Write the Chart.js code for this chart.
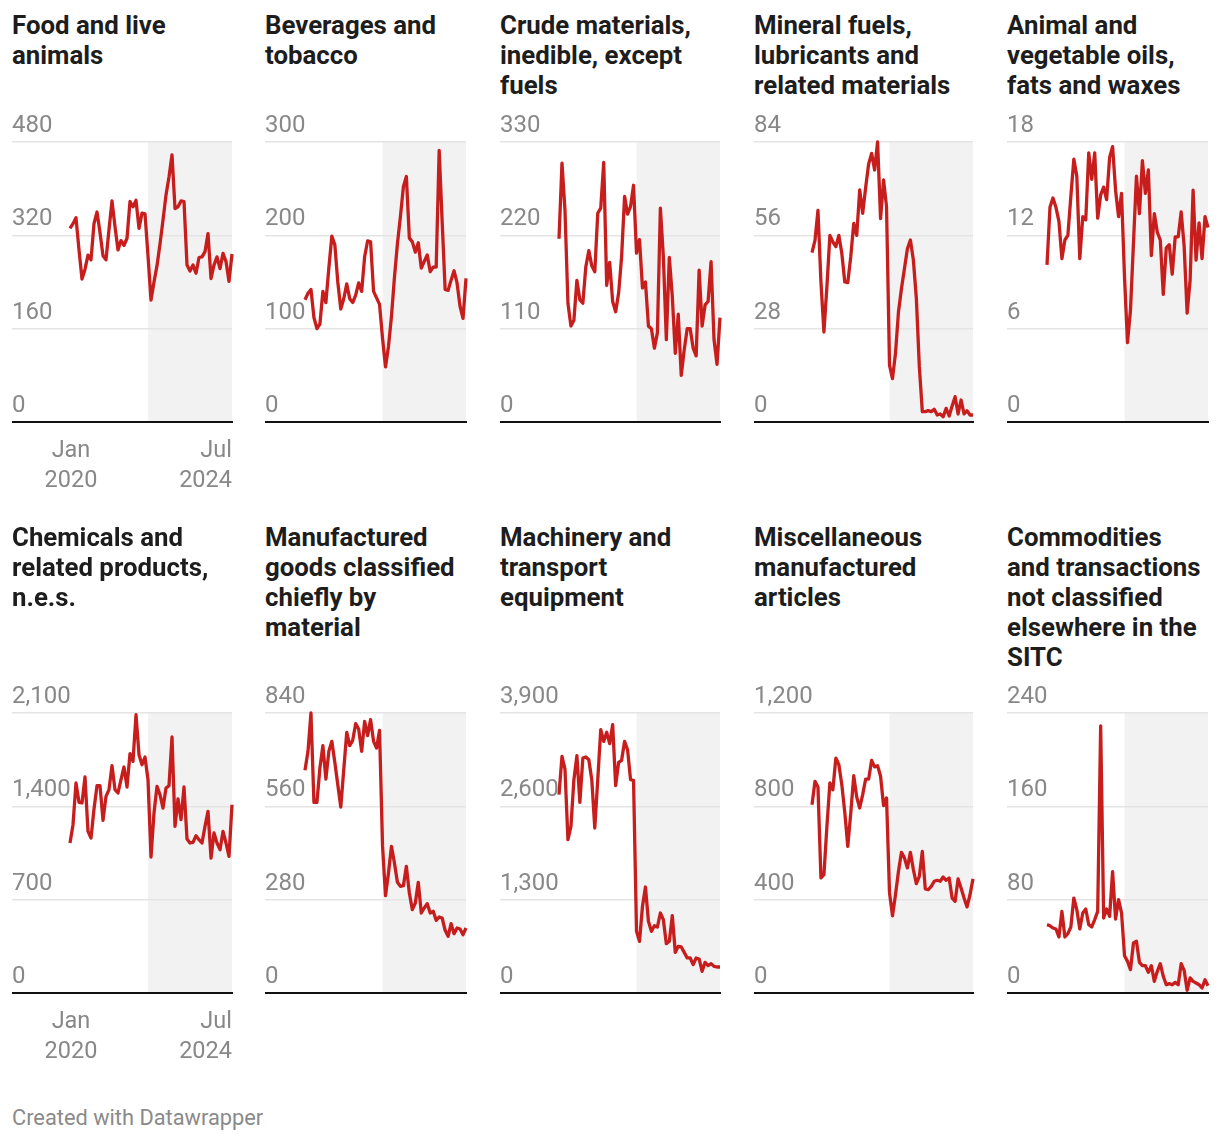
<!DOCTYPE html>
<html>
<head>
<meta charset="utf-8">
<script src="https://cdn.jsdelivr.net/npm/chart.js@4.4.1/dist/chart.umd.min.js"></script>
<style>
  body { margin: 0; background: #fff; font-family: Roboto, "Noto Sans", sans-serif; }
  #page { position: relative; width: 1220px; height: 1140px; overflow: hidden; }
  .title { position: absolute; font-weight: 700; font-size: 25.8px; line-height: 30px; color: #1d1d1d; white-space: nowrap; }
  .panel { position: absolute; }
  .xlabel { position: absolute; width: 100px; font-size: 23.5px; line-height: 30px; color: #888; white-space: nowrap; }
  #footer { position: absolute; font-size: 21.8px; line-height: 30px; color: #8a8a8a; }
</style>
</head>
<body>
<div id="page"></div>
<script>
// months Jan 2020 - Jul 2024
const months = [];
for (let y = 2020; y <= 2024; y++) {
    for (let m = 1; m <= 12; m++) {
        if (y === 2024 && m > 7) break;
        months.push(y + '-' + String(m).padStart(2, '0'));
    }
}
const shadeFrom = '2022-03';
const xTickLabels = [['Jan', '2020'], ['Jul', '2024']];

const titles = [
    ['Food and live', 'animals'],
    ['Beverages and', 'tobacco'],
    ['Crude materials,', 'inedible, except', 'fuels'],
    ['Mineral fuels,', 'lubricants and', 'related materials'],
    ['Animal and', 'vegetable oils,', 'fats and waxes'],
    ['Chemicals and', 'related products,', 'n.e.s.'],
    ['Manufactured', 'goods classified', 'chiefly by', 'material'],
    ['Machinery and', 'transport', 'equipment'],
    ['Miscellaneous', 'manufactured', 'articles'],
    ['Commodities', 'and transactions', 'not classified', 'elsewhere in the', 'SITC']
];

const yTicks = [
    [0, 160, 320, 480],
    [0, 100, 200, 300],
    [0, 110, 220, 330],
    [0, 28, 56, 84],
    [0, 6, 12, 18],
    [0, 700, 1400, 2100],
    [0, 280, 560, 840],
    [0, 1300, 2600, 3900],
    [0, 400, 800, 1200],
    [0, 80, 160, 240]
];

const food = [332, 340, 350, 295, 245, 262, 286, 278, 340, 360, 325, 285, 278, 330, 379, 335, 295, 311, 303, 315,
    378, 369, 380, 332, 358, 357, 285, 209, 240, 268, 305, 346, 389, 420, 458, 366, 369, 379, 378, 269,
    259, 269, 255, 282, 283, 292, 323, 246, 269, 283, 263, 289, 275, 241, 288];
const beverages = [131, 138, 142, 112, 100, 105, 140, 128, 165, 199, 190, 150, 121, 132, 148, 132, 128, 136, 149, 140,
    177, 194, 193, 140, 133, 126, 90, 59, 81, 113, 155, 191, 220, 252, 263, 197, 193, 182, 192, 165,
    172, 179, 161, 166, 166, 291, 215, 142, 141, 152, 162, 149, 124, 111, 154];
const crude = [216, 305, 250, 140, 113, 120, 167, 144, 140, 183, 202, 184, 177, 246, 252, 306, 161, 188, 142, 130,
    152, 195, 266, 245, 254, 279, 199, 215, 158, 165, 113, 110, 87, 105, 252, 195, 97, 194, 148, 81,
    127, 55, 85, 110, 110, 87, 78, 179, 113, 138, 142, 189, 97, 68, 123];
const mineral = [50.8, 54.5, 63.5, 42, 27, 40.6, 56, 54, 52.6, 56, 50.6, 42, 41.8, 49.6, 59.6, 56, 69.6, 62.6, 70.4, 77.4,
    80.6, 75.6, 84, 61, 72.6, 64.6, 17, 13, 20.6, 33, 40, 46, 52, 54.6, 48.6, 37.1, 16.6, 3.1, 3.1, 3.4,
    3.1, 3.8, 2.1, 2.4, 1.6, 4.1, 1.8, 4.8, 7.6, 2.4, 6.6, 2.4, 3.4, 2.1, 2.1];
const oils = [10.1, 13.8, 14.4, 13.8, 12.9, 10.5, 11.7, 12.0, 14.5, 16.9, 15.8, 10.5, 13.2, 13.0, 17.3, 15.6, 17.3, 13.1, 14.6, 15.1,
    14.3, 17.0, 17.7, 14.9, 13.2, 14.7, 9.3, 5.1, 7.2, 11.5, 15.8, 13.4, 16.8, 14.7, 16.2, 10.7, 13.4, 12.2, 11.7, 8.2,
    11.2, 11.4, 9.5, 11.9, 11.9, 13.5, 11.3, 7.0, 9.1, 14.9, 10.4, 12.8, 10.5, 13.2, 12.5];
const chemicals = [1125, 1262, 1575, 1430, 1425, 1620, 1212, 1162, 1380, 1555, 1555, 1295, 1475, 1525, 1705, 1525, 1500, 1600, 1695, 1545,
    1795, 1737, 2087, 1787, 1712, 1770, 1600, 1020, 1350, 1550, 1487, 1387, 1537, 1555, 1920, 1250, 1455, 1300, 1545, 1155,
    1125, 1130, 1180, 1150, 1125, 1250, 1362, 1012, 1200, 1125, 1075, 1212, 1125, 1025, 1412];
const manufactured = [668, 725, 840, 572, 572, 675, 742, 642, 725, 755, 692, 625, 558, 670, 782, 742, 758, 808, 792, 725,
    815, 772, 820, 755, 735, 788, 442, 292, 360, 440, 390, 332, 320, 322, 380, 300, 250, 270, 332, 240,
    255, 268, 240, 245, 218, 228, 225, 188, 170, 208, 178, 195, 192, 175, 195];
const machinery = [2762, 3296, 3120, 2136, 2321, 2971, 3306, 2656, 3273, 3287, 3250, 2971, 2298, 2971, 3668, 3505, 3631, 3473, 3738, 2888,
    3213, 3241, 3505, 3389, 2971, 2962, 859, 720, 1207, 1476, 998, 859, 938, 919, 1114, 1021, 687, 720, 1077, 566,
    650, 641, 566, 488, 488, 395, 488, 474, 302, 427, 381, 409, 371, 362, 362];
const miscellaneous = [807, 907, 883, 493, 507, 714, 900, 871, 1007, 979, 893, 774, 629, 771, 931, 840, 793, 850, 917, 917,
    997, 969, 974, 929, 803, 836, 429, 331, 421, 521, 603, 579, 536, 603, 529, 469, 500, 607, 446, 443,
    457, 479, 483, 479, 497, 483, 493, 407, 393, 489, 450, 407, 369, 421, 489];
const commodities = [58.6, 57.7, 55.7, 54.9, 48, 70, 48, 50.9, 56.6, 81.4, 71.4, 54.9, 68.6, 72, 58.6, 56.6, 62.9, 70, 229, 64.3,
    72, 65.7, 104, 63.4, 80, 68.6, 32, 27.1, 20, 42.9, 44.3, 26.3, 23.4, 23.4, 17.7, 23.4, 10, 18.6, 25.1, 14.3,
    7.1, 8, 7.1, 9.1, 7.1, 25.1, 19.4, 2.3, 12.9, 10, 8.6, 7.1, 4.3, 11.4, 6.3];

const series = [food, beverages, crude, mineral, oils, chemicals, manufactured, machinery, miscellaneous, commodities];

// layout of the grid (pixels)
const colLeft = [12, 265, 500, 754, 1007];
const colRight = [232, 466, 720, 973, 1208];
const colLineStart = [70, 305, 559, 812, 1047];
const rowPlotTop = [142, 713];
const rowTitleTop = [10, 522];
const rowXLabelTop = [434, 1005];
const plotHeight = 280;
const padTop = 32, padBottom = 16, padRight = 4;

const red = '#c71e1d';

// grey box after the sanctions start
const shadePlugin = {
    id: 'shade',
    beforeDraw(chart, args, opts) {
        const area = chart.chartArea;
        const x0 = chart.scales.x.getPixelForValue(opts.from);
        chart.ctx.save();
        chart.ctx.fillStyle = '#f2f2f2';
        chart.ctx.fillRect(x0, area.top, area.right - x0, area.bottom - area.top);
        chart.ctx.restore();
    }
};

const page = document.getElementById('page');

function addDiv(cls, left, top, html, extra) {
    const d = document.createElement('div');
    d.className = cls;
    d.style.left = left + 'px';
    d.style.top = top + 'px';
    d.innerHTML = html;
    if (extra) Object.assign(d.style, extra);
    page.appendChild(d);
    return d;
}

function drawPanel(i) {
    const col = i % 5;
    const row = Math.floor(i / 5);
    const ticks = yTicks[i];
    const last = months.length - 1;

    addDiv('title', colLeft[col], rowTitleTop[row], titles[i].join('<br>'));

    // empty space left of Jan 2020, in months
    const pad = last * (colLineStart[col] - colLeft[col]) / (colRight[col] - colLineStart[col]);

    const w = colRight[col] - colLeft[col] + padRight;
    const h = padTop + plotHeight + padBottom;
    const box = addDiv('panel', colLeft[col], rowPlotTop[row] - padTop, '');
    const canvas = document.createElement('canvas');
    canvas.width = w;
    canvas.height = h;
    canvas.style.width = w + 'px';
    canvas.style.height = h + 'px';
    box.appendChild(canvas);

    new Chart(canvas, {
        type: 'line',
        data: {
            datasets: [{
                data: series[i].map((v, k) => ({x: k, y: v})),
                borderColor: red,
                borderWidth: 3.3,
                borderJoinStyle: 'round',
                pointRadius: 0,
                tension: 0,
                clip: false
            }]
        },
        options: {
            responsive: false,
            animation: false,
            devicePixelRatio: 1,
            layout: { padding: { top: padTop, bottom: padBottom, left: 0, right: padRight } },
            plugins: {
                legend: { display: false },
                tooltip: { enabled: false },
                shade: { from: months.indexOf(shadeFrom) }
            },
            scales: {
                x: {
                    type: 'linear',
                    min: -pad,
                    max: last,
                    ticks: { display: false },
                    grid: { display: false, drawTicks: false },
                    border: { display: true, color: '#111', width: 2 }
                },
                y: {
                    min: 0,
                    max: ticks[ticks.length - 1],
                    afterBuildTicks: s => { s.ticks = ticks.map(v => ({value: v})); },
                    grid: { color: '#e4e4e4', lineWidth: 1.5, drawTicks: false },
                    border: { display: false },
                    ticks: {
                        mirror: true,
                        padding: 0,
                        labelOffset: -16,
                        color: '#888',
                        font: { family: 'Roboto', size: 24 },
                        callback: v => v.toLocaleString('en-US')
                    }
                }
            }
        },
        plugins: [shadePlugin]
    });

    // date labels only under the first column
    if (col === 0) {
        addDiv('xlabel', colLineStart[col] - 49, rowXLabelTop[row], xTickLabels[0].join('<br>'), {textAlign: 'center'});
        addDiv('xlabel', colRight[col] - 100, rowXLabelTop[row], xTickLabels[1].join('<br>'), {textAlign: 'right'});
    }
}

for (let i = 0; i < series.length; i++) {
    drawPanel(i);
}

addDiv('', 12, 1103, 'Created with Datawrapper').id = 'footer';
</script>
</body>
</html>
